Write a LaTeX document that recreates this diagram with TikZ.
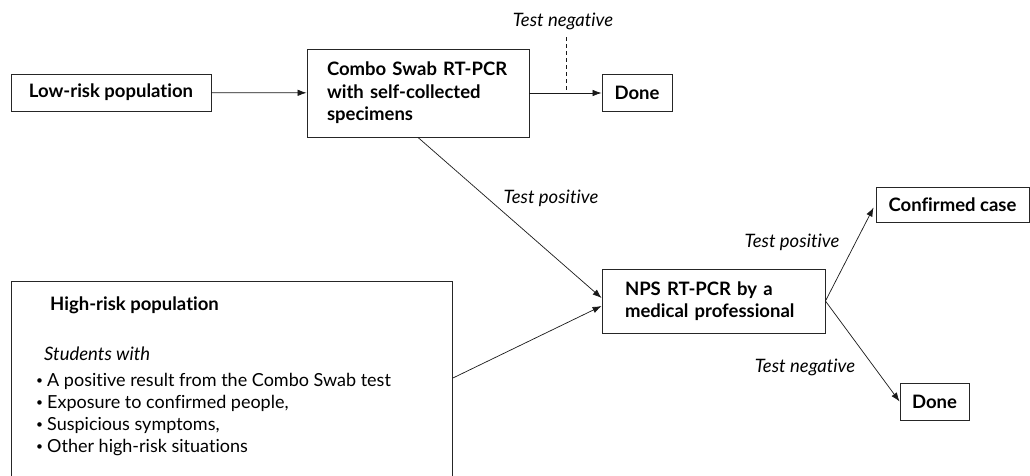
\documentclass[tikz,border=0pt]{standalone}
\usepackage{fontspec}
\setmainfont{Lato}[Ligatures=NoCommon]
\usetikzlibrary{arrows.meta}
\newcommand{\smallbul}{\raisebox{1.5pt}{\fontsize{12}{12}\selectfont\textbullet}\hspace{4pt}}
\begin{document}
\begin{tikzpicture}[x=1pt,y=-1pt,
  boxline/.style={draw=black!85,line width=0.9pt},
  box/.style={boxline,inner sep=0pt,font=\bfseries\fontsize{18.5}{22.5}\selectfont},
  conn/.style={draw=black!90,line width=0.7pt,-{Latex[length=9pt,width=6.5pt]}},
  lbl/.style={inner sep=0pt,font=\itshape\fontsize{18.5}{21}\selectfont},
  body/.style={inner sep=0pt,font=\fontsize{18}{22}\selectfont}]
\useasboundingbox (0,0) rectangle (1030,475);
\clip (0,0) rectangle (1030,475);
% boxes
\node[box,minimum width=200pt,minimum height=37pt] (lowrisk) at (111,92.5) {Low-risk population};
\node[box,minimum width=222pt,minimum height=88pt,text width=182pt,inner xsep=20pt,align=left] (combo) at (418,93)
  {Combo Swab RT-PCR\\with self-collected\\specimens};
\node[box,minimum width=70pt,minimum height=37pt] (done1) at (637,93) {Done};
\node[box,minimum width=223pt,minimum height=64pt,text width=177pt,inner xsep=23pt,align=left] (nps) at (713.5,301)
  {NPS RT-PCR by a\\medical professional};
\node[box,minimum width=153pt,minimum height=35pt] (confirmed) at (952.5,204.5) {Confirmed case};
\node[box,minimum width=69pt,minimum height=37pt] (done2) at (934.5,401.5) {Done};
\node[box,minimum width=441pt,minimum height=230pt,anchor=north west] (high) at (11,281) {};
% high-risk texts
\node[inner sep=0pt,anchor=west,font=\bfseries\fontsize{18.5}{22.5}\selectfont] (hightitle) at (50,305) {High-risk population};
\node[lbl,anchor=west] (students) at (44,354) {Students with};
\node[body,anchor=north west,align=left] (bullets) at (36,373)
  {\smallbul A positive result from the Combo Swab test\\
   \smallbul Exposure to confirmed people,\\
   \smallbul Suspicious symptoms,\\
   \smallbul Other high-risk situations};
% labels
\node[lbl] (negtop) at (563,21) {Test negative};
\node[lbl] (pos1) at (551,198) {Test positive};
\node[lbl] (pos2) at (792,242) {Test positive};
\node[lbl] (neg2) at (805,367) {Test negative};
% connectors
\draw[conn] (lowrisk) -- (combo);
\draw[conn] (combo.east) -- (done1.west);
\coordinate (dtop) at (566,37);
\draw[draw=black!90,line width=0.7pt,dash pattern=on 4pt off 3pt] (dtop) -- (dtop |- combo.east);
\draw[conn] (combo.south) -- ([yshift=3pt]nps.west);
\draw[conn] ([yshift=-97pt]high.north east) -- ([yshift=-5pt]nps.west);
\draw[conn] (nps.east) -- ([xshift=-2pt,yshift=-3pt]confirmed.west);
\draw[conn] (nps.east) -- (done2.west);
\end{tikzpicture}
\end{document}
